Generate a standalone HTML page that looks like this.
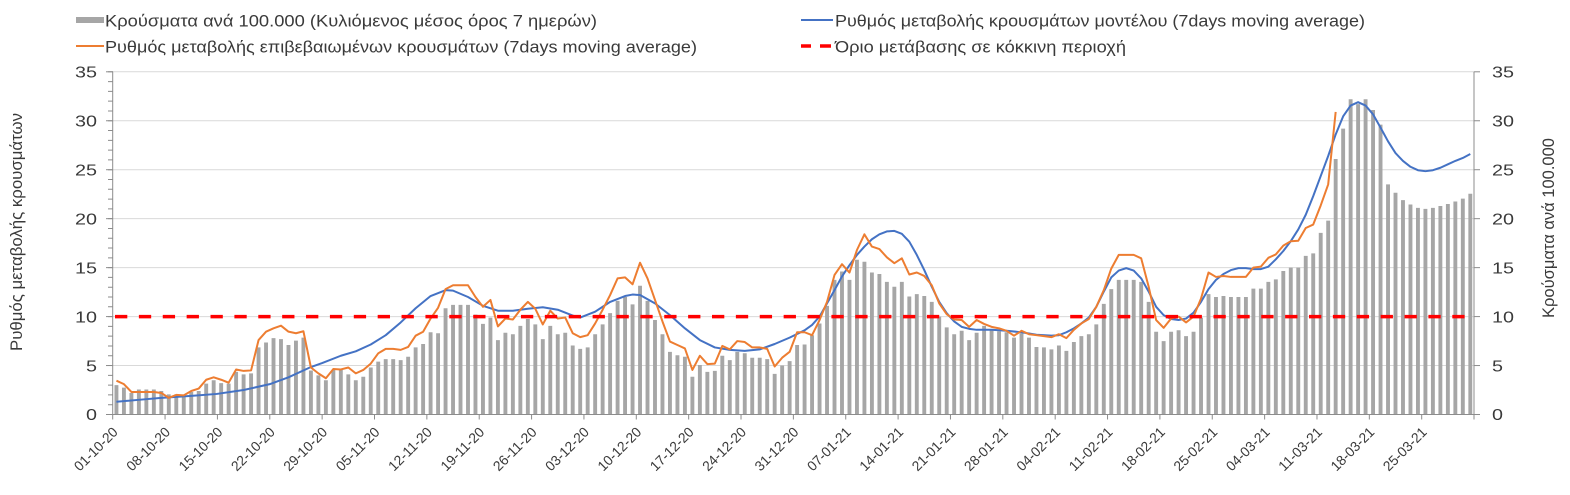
<!DOCTYPE html>
<html>
<head>
<meta charset="utf-8">
<style>
html,body{margin:0;padding:0;background:#fff;}
svg{display:block;}
text{font-family:"Liberation Sans","DejaVu Sans",sans-serif;fill:#3a3a3a;}
</style>
</head>
<body>
<svg width="1570" height="495" viewBox="0 0 1570 495" xmlns="http://www.w3.org/2000/svg">
<rect x="0" y="0" width="1570" height="495" fill="#fff"/>

<!-- Legend -->
<rect x="76" y="17" width="28" height="6" fill="#a6a6a6"/>
<text x="105" y="26.5" font-size="16.5" textLength="492" lengthAdjust="spacingAndGlyphs">Κρούσματα ανά 100.000 (Κυλιόμενος μέσος όρος 7 ημερών)</text>
<line x1="76" y1="46" x2="104" y2="46" stroke="#ED7D31" stroke-width="2"/>
<text x="105" y="52.5" font-size="16.5" textLength="592" lengthAdjust="spacingAndGlyphs">Ρυθμός μεταβολής επιβεβαιωμένων κρουσμάτων (7days moving average)</text>
<line x1="801" y1="20" x2="833" y2="20" stroke="#4472C4" stroke-width="2"/>
<text x="835" y="26.5" font-size="16.5" textLength="530" lengthAdjust="spacingAndGlyphs">Ρυθμός μεταβολής κρουσμάτων μοντέλου (7days moving average)</text>
<line x1="801" y1="46" x2="811" y2="46" stroke="#FF0000" stroke-width="3.5"/>
<line x1="820" y1="46" x2="831" y2="46" stroke="#FF0000" stroke-width="3.5"/>
<text x="835" y="52.5" font-size="16.5" textLength="291" lengthAdjust="spacingAndGlyphs">Όριο μετάβασης σε κόκκινη περιοχή</text>

<!-- Gridlines -->
<g stroke="#d9d9d9" stroke-width="1">
<line x1="113" y1="71.8" x2="1474" y2="71.8"/>
<line x1="113" y1="120.76" x2="1474" y2="120.76"/>
<line x1="113" y1="169.72" x2="1474" y2="169.72"/>
<line x1="113" y1="218.67" x2="1474" y2="218.67"/>
<line x1="113" y1="267.63" x2="1474" y2="267.63"/>
<line x1="113" y1="316.59" x2="1474" y2="316.59"/>
<line x1="113" y1="365.54" x2="1474" y2="365.54"/>
</g>

<!-- Data -->
<g transform="translate(112.7 414.5) scale(7.4799 -9.7914)">
<path fill="#a6a6a6" d="M.24 0h.52v3h-.52zM1.24 0h.52v2.75h-.52zM2.24 0h.52v2.2h-.52zM3.24 0h.52v2.55h-.52zM4.24 0h.52v2.55h-.52zM5.24 0h.52v2.55h-.52zM6.24 0h.52v2.4h-.52zM7.24 0h.52v2.05h-.52zM8.24 0h.52v2.05h-.52zM9.24 0h.52v2h-.52zM10.24 0h.52v2.3h-.52zM11.24 0h.52v2.4h-.52zM12.24 0h.52v3.15h-.52zM13.24 0h.52v3.5h-.52zM14.24 0h.52v3.2h-.52zM15.24 0h.52v3.15h-.52zM16.24 0h.52v4.35h-.52zM17.24 0h.52v4.1h-.52zM18.24 0h.52v4.2h-.52zM19.24 0h.52v6.85h-.52zM20.24 0h.52v7.35h-.52zM21.24 0h.52v7.8h-.52zM22.24 0h.52v7.7h-.52zM23.24 0h.52v7.1h-.52zM24.24 0h.52v7.55h-.52zM25.24 0h.52v7.85h-.52zM26.24 0h.52v4.5h-.52zM27.24 0h.52v4h-.52zM28.24 0h.52v3.5h-.52zM29.24 0h.52v4.55h-.52zM30.24 0h.52v4.55h-.52zM31.24 0h.52v4.1h-.52zM32.24 0h.52v3.5h-.52zM33.24 0h.52v3.85h-.52zM34.24 0h.52v4.8h-.52zM35.24 0h.52v5.4h-.52zM36.24 0h.52v5.65h-.52zM37.24 0h.52v5.65h-.52zM38.24 0h.52v5.55h-.52zM39.24 0h.52v5.9h-.52zM40.24 0h.52v6.85h-.52zM41.24 0h.52v7.2h-.52zM42.24 0h.52v8.4h-.52zM43.24 0h.52v8.3h-.52zM44.24 0h.52v10.85h-.52zM45.24 0h.52v11.2h-.52zM46.24 0h.52v11.2h-.52zM47.24 0h.52v11.2h-.52zM48.24 0h.52v10.2h-.52zM49.24 0h.52v9.25h-.52zM50.24 0h.52v9.9h-.52zM51.24 0h.52v7.6h-.52zM52.24 0h.52v8.35h-.52zM53.24 0h.52v8.2h-.52zM54.24 0h.52v9.05h-.52zM55.24 0h.52v9.75h-.52zM56.24 0h.52v9.2h-.52zM57.24 0h.52v7.7h-.52zM58.24 0h.52v9.05h-.52zM59.24 0h.52v8.2h-.52zM60.24 0h.52v8.35h-.52zM61.24 0h.52v7.05h-.52zM62.24 0h.52v6.7h-.52zM63.24 0h.52v6.85h-.52zM64.24 0h.52v8.2h-.52zM65.24 0h.52v9.2h-.52zM66.24 0h.52v10.35h-.52zM67.24 0h.52v11.6h-.52zM68.24 0h.52v12h-.52zM69.24 0h.52v11.25h-.52zM70.24 0h.52v13.15h-.52zM71.24 0h.52v11.6h-.52zM72.24 0h.52v9.65h-.52zM73.24 0h.52v8.2h-.52zM74.24 0h.52v6.4h-.52zM75.24 0h.52v6.05h-.52zM76.24 0h.52v5.9h-.52zM77.24 0h.52v3.85h-.52zM78.24 0h.52v5.05h-.52zM79.24 0h.52v4.35h-.52zM80.24 0h.52v4.45h-.52zM81.24 0h.52v6h-.52zM82.24 0h.52v5.55h-.52zM83.24 0h.52v6.4h-.52zM84.24 0h.52v6.25h-.52zM85.24 0h.52v5.8h-.52zM86.24 0h.52v5.8h-.52zM87.24 0h.52v5.65h-.52zM88.24 0h.52v4.15h-.52zM89.24 0h.52v5h-.52zM90.24 0h.52v5.45h-.52zM91.24 0h.52v7.1h-.52zM92.24 0h.52v7.15h-.52zM93.24 0h.52v8.1h-.52zM94.24 0h.52v9.3h-.52zM95.24 0h.52v11.1h-.52zM96.24 0h.52v13.75h-.52zM97.24 0h.52v14.6h-.52zM98.24 0h.52v13.75h-.52zM99.24 0h.52v15.8h-.52zM100.24 0h.52v15.6h-.52zM101.24 0h.52v14.5h-.52zM102.24 0h.52v14.35h-.52zM103.24 0h.52v13.55h-.52zM104.24 0h.52v13.05h-.52zM105.24 0h.52v13.55h-.52zM106.24 0h.52v12.05h-.52zM107.24 0h.52v12.3h-.52zM108.24 0h.52v12.1h-.52zM109.24 0h.52v11.5h-.52zM110.24 0h.52v10h-.52zM111.24 0h.52v8.9h-.52zM112.24 0h.52v8.2h-.52zM113.24 0h.52v8.55h-.52zM114.24 0h.52v7.6h-.52zM115.24 0h.52v8.35h-.52zM116.24 0h.52v9.05h-.52zM117.24 0h.52v8.6h-.52zM118.24 0h.52v8.5h-.52zM119.24 0h.52v8.4h-.52zM120.24 0h.52v7.85h-.52zM121.24 0h.52v8.3h-.52zM122.24 0h.52v7.85h-.52zM123.24 0h.52v6.9h-.52zM124.24 0h.52v6.85h-.52zM125.24 0h.52v6.65h-.52zM126.24 0h.52v7.05h-.52zM127.24 0h.52v6.5h-.52zM128.24 0h.52v7.4h-.52zM129.24 0h.52v8h-.52zM130.24 0h.52v8.2h-.52zM131.24 0h.52v9.2h-.52zM132.24 0h.52v11.3h-.52zM133.24 0h.52v12.8h-.52zM134.24 0h.52v13.75h-.52zM135.24 0h.52v13.75h-.52zM136.24 0h.52v13.75h-.52zM137.24 0h.52v13.55h-.52zM138.24 0h.52v11.5h-.52zM139.24 0h.52v8.45h-.52zM140.24 0h.52v7.5h-.52zM141.24 0h.52v8.45h-.52zM142.24 0h.52v8.6h-.52zM143.24 0h.52v8h-.52zM144.24 0h.52v8.45h-.52zM145.24 0h.52v9.9h-.52zM146.24 0h.52v12.3h-.52zM147.24 0h.52v12h-.52zM148.24 0h.52v12.1h-.52zM149.24 0h.52v12h-.52zM150.24 0h.52v12h-.52zM151.24 0h.52v12h-.52zM152.24 0h.52v12.85h-.52zM153.24 0h.52v12.85h-.52zM154.24 0h.52v13.55h-.52zM155.24 0h.52v13.8h-.52zM156.24 0h.52v14.65h-.52zM157.24 0h.52v15h-.52zM158.24 0h.52v15h-.52zM159.24 0h.52v16.2h-.52zM160.24 0h.52v16.45h-.52zM161.24 0h.52v18.55h-.52zM162.24 0h.52v19.8h-.52zM163.24 0h.52v26.1h-.52zM164.24 0h.52v29.2h-.52zM165.24 0h.52v32.2h-.52zM166.24 0h.52v31.7h-.52zM167.24 0h.52v32.2h-.52zM168.24 0h.52v31.1h-.52zM169.24 0h.52v29.6h-.52zM170.24 0h.52v23.5h-.52zM171.24 0h.52v22.65h-.52zM172.24 0h.52v21.9h-.52zM173.24 0h.52v21.45h-.52zM174.24 0h.52v21.1h-.52zM175.24 0h.52v21h-.52zM176.24 0h.52v21.1h-.52zM177.24 0h.52v21.3h-.52zM178.24 0h.52v21.5h-.52zM179.24 0h.52v21.75h-.52zM180.24 0h.52v22.05h-.52zM181.24 0h.52v22.55h-.52z"/>

<polyline fill="none" stroke="#4472C4" stroke-width="2" vector-effect="non-scaling-stroke" stroke-linejoin="round" points="0.5,1.3 3.5,1.5 6.5,1.7 10.5,1.9 13.9,2.1 17.5,2.5 21,3.1 23.5,3.8 26.5,4.85 28,5.25 30.5,6.0 32.5,6.45 34.5,7.15 36.5,8.1 38.5,9.4 40.5,10.85 42.5,12.1 44.5,12.7 45.5,12.65 47.5,12.0 49.5,11.1 51.5,10.6 53.5,10.6 55.5,10.8 57.5,10.95 59.5,10.7 61.5,10.1 62.5,9.9 64.5,10.5 66.5,11.5 68.5,12.1 69.5,12.25 70.5,12.2 72.5,11.35 74.5,10.15 76.5,8.8 78.5,7.6 80.5,6.85 82.5,6.6 84.5,6.5 86.5,6.65 88.5,7.2 90.5,7.85 92.5,8.6 93.5,9.15 94.5,10.0 95.5,11.35 96.5,12.7 97.5,14.1 98.5,15.25 99.5,16.3 100.5,17.15 101.5,17.9 102.5,18.4 103.5,18.7 104.5,18.75 105.5,18.45 106.5,17.65 107.5,16.3 108.5,14.75 109.5,13.05 110.5,11.5 111.5,10.35 112.5,9.5 113.5,8.95 114.5,8.75 115.5,8.65 117.5,8.65 119.5,8.55 121.5,8.4 123.5,8.15 125.5,8.05 126.5,8.1 127.5,8.4 128.5,8.8 129.5,9.3 130.5,9.9 131.5,11.0 132.5,12.55 133.5,14.0 134.5,14.7 135.5,14.95 136.5,14.7 137.5,13.9 138.5,12.55 139.5,11.0 140.5,10.15 141.5,9.75 142.5,9.65 143.5,9.8 144.5,10.4 145.5,11.5 146.5,12.8 147.5,13.75 148.5,14.35 149.5,14.75 150.5,14.95 151.5,14.95 152.5,14.85 153.5,14.85 154.5,15.1 155.5,15.85 156.5,16.7 157.5,17.7 158.5,18.9 159.5,20.4 160.5,22.3 161.5,24.35 162.5,26.4 163.5,28.6 164.5,30.45 165.5,31.55 166.5,31.9 167.5,31.55 168.5,30.65 169.5,29.3 170.5,27.9 171.5,26.7 172.5,25.9 173.5,25.3 174.5,24.95 175.5,24.85 176.5,24.95 177.5,25.2 178.5,25.55 179.5,25.9 180.5,26.2 181.5,26.6"/>

<polyline fill="none" stroke="#ED7D31" stroke-width="2" vector-effect="non-scaling-stroke" stroke-linejoin="round" points="0.5,3.45 1.5,3.1 2.5,2.3 3.5,2.3 4.5,2.3 5.5,2.3 6.5,2.2 7.5,1.7 8.5,2.0 9.5,1.95 10.5,2.4 11.5,2.65 12.5,3.55 13.5,3.8 14.5,3.55 15.5,3.25 16.5,4.6 17.5,4.45 18.5,4.5 19.5,7.6 20.5,8.46 21.5,8.8 22.5,9.07 23.5,8.46 24.5,8.3 25.5,8.5 26.5,4.8 27.5,4.2 28.5,3.7 29.5,4.65 30.5,4.6 31.5,4.8 32.5,4.2 33.5,4.55 34.5,5.2 35.5,6.25 36.5,6.7 37.5,6.7 38.5,6.6 39.5,6.9 40.5,8.05 41.5,8.45 42.5,9.8 43.5,10.9 44.5,12.8 45.5,13.2 46.5,13.2 47.5,13.2 48.5,12.0 49.5,11.0 50.5,11.7 51.5,9.0 52.5,9.8 53.5,9.7 54.5,10.7 55.5,11.5 56.5,10.8 57.5,9.2 58.5,10.6 59.5,9.8 60.5,9.9 61.5,8.3 62.5,7.9 63.5,8.1 64.5,9.3 65.5,10.7 66.5,12.2 67.5,13.9 68.5,14.0 69.5,13.3 70.5,15.5 71.5,13.9 72.5,11.7 73.5,9.5 74.5,7.45 75.5,7.1 76.5,6.75 77.5,4.55 78.5,6.0 79.5,5.15 80.5,5.2 81.5,7.0 82.5,6.65 83.5,7.5 84.5,7.4 85.5,6.85 86.5,6.85 87.5,6.7 88.5,4.9 89.5,5.8 90.5,6.4 91.5,8.4 92.5,8.4 93.5,8.1 94.5,9.65 95.5,11.5 96.5,14.25 97.5,15.35 98.5,14.5 99.5,16.8 100.5,18.4 101.5,17.15 102.5,16.9 103.5,16.05 104.5,15.45 105.5,15.95 106.5,14.3 107.5,14.5 108.5,14.15 109.5,13.2 110.5,11.35 111.5,10.25 112.5,9.7 113.5,9.65 114.5,8.95 115.5,9.65 116.5,9.25 117.5,8.95 118.5,8.8 119.5,8.55 120.5,8.05 121.5,8.55 122.5,8.2 123.5,8.1 124.5,8.0 125.5,7.9 126.5,8.2 127.5,7.8 128.5,8.65 129.5,9.3 130.5,9.75 131.5,11.0 132.5,12.7 133.5,14.9 134.5,16.3 135.5,16.3 136.5,16.3 137.5,15.95 138.5,13.05 139.5,9.65 140.5,8.85 141.5,9.8 142.5,10.0 143.5,9.4 144.5,10.0 145.5,11.85 146.5,14.5 147.5,14.05 148.5,14.15 149.5,14.05 150.5,14.05 151.5,14.05 152.5,15.0 153.5,15.1 154.5,16.0 155.5,16.35 156.5,17.25 157.5,17.7 158.5,17.75 159.5,19.05 160.5,19.4 161.5,21.35 162.5,23.5 163.5,30.9"/>
</g>

<!-- Red threshold line -->
<line x1="115" y1="316.6" x2="1470" y2="316.6" stroke="#FF0000" stroke-width="3.5" stroke-dasharray="12.3 11.58"/>

<!-- Axes -->
<g stroke="#8c8c8c" stroke-width="1" fill="none">
<line x1="112.7" y1="71.8" x2="112.7" y2="414.5"/>
<line x1="1474" y1="71.8" x2="1474" y2="414.5"/>
<line x1="112.7" y1="414.5" x2="1474" y2="414.5"/>
<!-- left minor ticks -->
<line x1="110.5" y1="71.3" x2="110.5" y2="415.2" stroke-width="5" stroke-dasharray="1 8.7914"/>
<!-- left major ticks -->
<line x1="106" y1="71.8" x2="113" y2="71.8"/>
<line x1="106" y1="120.76" x2="113" y2="120.76"/>
<line x1="106" y1="169.72" x2="113" y2="169.72"/>
<line x1="106" y1="218.67" x2="113" y2="218.67"/>
<line x1="106" y1="267.63" x2="113" y2="267.63"/>
<line x1="106" y1="316.59" x2="113" y2="316.59"/>
<line x1="106" y1="365.54" x2="113" y2="365.54"/>
<line x1="106" y1="414.5" x2="113" y2="414.5"/>
<!-- right major ticks -->
<line x1="1474" y1="71.8" x2="1480" y2="71.8"/>
<line x1="1474" y1="120.76" x2="1480" y2="120.76"/>
<line x1="1474" y1="169.72" x2="1480" y2="169.72"/>
<line x1="1474" y1="218.67" x2="1480" y2="218.67"/>
<line x1="1474" y1="267.63" x2="1480" y2="267.63"/>
<line x1="1474" y1="316.59" x2="1480" y2="316.59"/>
<line x1="1474" y1="365.54" x2="1480" y2="365.54"/>
<line x1="1474" y1="414.5" x2="1480" y2="414.5"/>
<!-- x ticks -->
<path d="M112.7 414.5v5M165.06 414.5v5M217.42 414.5v5M269.78 414.5v5M322.14 414.5v5M374.5 414.5v5M426.86 414.5v5M479.22 414.5v5M531.58 414.5v5M583.94 414.5v5M636.3 414.5v5M688.66 414.5v5M741.02 414.5v5M793.38 414.5v5M845.74 414.5v5M898.1 414.5v5M950.46 414.5v5M1002.82 414.5v5M1055.18 414.5v5M1107.54 414.5v5M1159.9 414.5v5M1212.26 414.5v5M1264.62 414.5v5M1316.98 414.5v5M1369.34 414.5v5M1421.7 414.5v5M1474 414.5v5"/>
</g>

<!-- Left tick labels -->
<g font-size="16" text-anchor="end">
<text x="97" y="77.5" textLength="22" lengthAdjust="spacingAndGlyphs">35</text>
<text x="97" y="126.5" textLength="22" lengthAdjust="spacingAndGlyphs">30</text>
<text x="97" y="175.4" textLength="22" lengthAdjust="spacingAndGlyphs">25</text>
<text x="97" y="224.4" textLength="22" lengthAdjust="spacingAndGlyphs">20</text>
<text x="97" y="273.4" textLength="22" lengthAdjust="spacingAndGlyphs">15</text>
<text x="97" y="322.3" textLength="22" lengthAdjust="spacingAndGlyphs">10</text>
<text x="97" y="371.3" textLength="11" lengthAdjust="spacingAndGlyphs">5</text>
<text x="97" y="420.2" textLength="11" lengthAdjust="spacingAndGlyphs">0</text>
</g>
<!-- Right tick labels -->
<g font-size="16" text-anchor="start">
<text x="1492" y="77.5" textLength="22" lengthAdjust="spacingAndGlyphs">35</text>
<text x="1492" y="126.5" textLength="22" lengthAdjust="spacingAndGlyphs">30</text>
<text x="1492" y="175.4" textLength="22" lengthAdjust="spacingAndGlyphs">25</text>
<text x="1492" y="224.4" textLength="22" lengthAdjust="spacingAndGlyphs">20</text>
<text x="1492" y="273.4" textLength="22" lengthAdjust="spacingAndGlyphs">15</text>
<text x="1492" y="322.3" textLength="22" lengthAdjust="spacingAndGlyphs">10</text>
<text x="1492" y="371.3" textLength="11" lengthAdjust="spacingAndGlyphs">5</text>
<text x="1492" y="420.2" textLength="11" lengthAdjust="spacingAndGlyphs">0</text>
</g>

<!-- Axis titles -->
<text transform="translate(22 232) rotate(-90)" font-size="16.5" text-anchor="middle" textLength="238" lengthAdjust="spacingAndGlyphs">Ρυθμός μεταβολής κρουσμάτων</text>
<text transform="translate(1554 228) rotate(-90)" font-size="16.5" text-anchor="middle" textLength="180" lengthAdjust="spacingAndGlyphs">Κρούσματα ανά 100.000</text>

<!-- X labels -->
<g font-size="14" text-anchor="end">
<text transform="translate(118.7 433) rotate(-45)" textLength="55" lengthAdjust="spacingAndGlyphs">01-10-20</text>
<text transform="translate(171.06 433) rotate(-45)" textLength="55" lengthAdjust="spacingAndGlyphs">08-10-20</text>
<text transform="translate(223.42 433) rotate(-45)" textLength="55" lengthAdjust="spacingAndGlyphs">15-10-20</text>
<text transform="translate(275.78 433) rotate(-45)" textLength="55" lengthAdjust="spacingAndGlyphs">22-10-20</text>
<text transform="translate(328.14 433) rotate(-45)" textLength="55" lengthAdjust="spacingAndGlyphs">29-10-20</text>
<text transform="translate(380.5 433) rotate(-45)" textLength="55" lengthAdjust="spacingAndGlyphs">05-11-20</text>
<text transform="translate(432.86 433) rotate(-45)" textLength="55" lengthAdjust="spacingAndGlyphs">12-11-20</text>
<text transform="translate(485.22 433) rotate(-45)" textLength="55" lengthAdjust="spacingAndGlyphs">19-11-20</text>
<text transform="translate(537.58 433) rotate(-45)" textLength="55" lengthAdjust="spacingAndGlyphs">26-11-20</text>
<text transform="translate(589.94 433) rotate(-45)" textLength="55" lengthAdjust="spacingAndGlyphs">03-12-20</text>
<text transform="translate(642.3 433) rotate(-45)" textLength="55" lengthAdjust="spacingAndGlyphs">10-12-20</text>
<text transform="translate(694.66 433) rotate(-45)" textLength="55" lengthAdjust="spacingAndGlyphs">17-12-20</text>
<text transform="translate(747.02 433) rotate(-45)" textLength="55" lengthAdjust="spacingAndGlyphs">24-12-20</text>
<text transform="translate(799.38 433) rotate(-45)" textLength="55" lengthAdjust="spacingAndGlyphs">31-12-20</text>
<text transform="translate(851.74 433) rotate(-45)" textLength="55" lengthAdjust="spacingAndGlyphs">07-01-21</text>
<text transform="translate(904.1 433) rotate(-45)" textLength="55" lengthAdjust="spacingAndGlyphs">14-01-21</text>
<text transform="translate(956.46 433) rotate(-45)" textLength="55" lengthAdjust="spacingAndGlyphs">21-01-21</text>
<text transform="translate(1008.82 433) rotate(-45)" textLength="55" lengthAdjust="spacingAndGlyphs">28-01-21</text>
<text transform="translate(1061.18 433) rotate(-45)" textLength="55" lengthAdjust="spacingAndGlyphs">04-02-21</text>
<text transform="translate(1113.54 433) rotate(-45)" textLength="55" lengthAdjust="spacingAndGlyphs">11-02-21</text>
<text transform="translate(1165.9 433) rotate(-45)" textLength="55" lengthAdjust="spacingAndGlyphs">18-02-21</text>
<text transform="translate(1218.26 433) rotate(-45)" textLength="55" lengthAdjust="spacingAndGlyphs">25-02-21</text>
<text transform="translate(1270.62 433) rotate(-45)" textLength="55" lengthAdjust="spacingAndGlyphs">04-03-21</text>
<text transform="translate(1322.98 433) rotate(-45)" textLength="55" lengthAdjust="spacingAndGlyphs">11-03-21</text>
<text transform="translate(1375.34 433) rotate(-45)" textLength="55" lengthAdjust="spacingAndGlyphs">18-03-21</text>
<text transform="translate(1427.7 433) rotate(-45)" textLength="55" lengthAdjust="spacingAndGlyphs">25-03-21</text>
</g>
</svg>
</body>
</html>
